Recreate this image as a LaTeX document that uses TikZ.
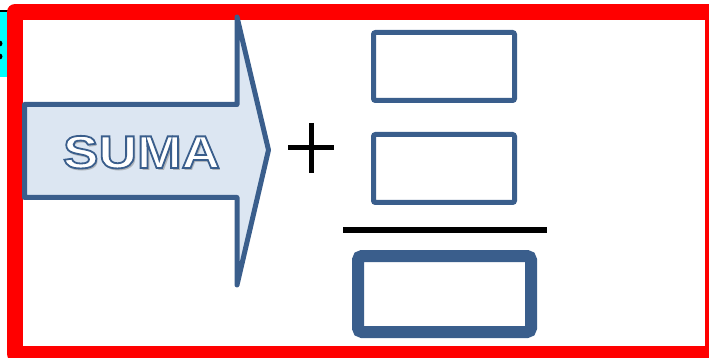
\documentclass[tikz,border=0pt]{standalone}
\usepackage{fontspec}
\usetikzlibrary{calc}
\newfontfamily\sumafont[FakeStretch=1.16]{Liberation Sans}
\definecolor{ofblue}{HTML}{3A5E8C}
\definecolor{offill}{HTML}{DCE6F2}
\definecolor{cyanbox}{HTML}{00FFFF}
\newcommand{\outlinedtext}[1]{\special{pdf:literal direct q 2 Tr 1.8 w 0.227 0.369 0.549 RG}#1\special{pdf:literal direct Q}}
\tikzset{
  framebox/.style={draw=red, line width=16pt, line join=round},
  smallbox/.style={draw=ofblue, line width=5pt, rounded corners=2pt, fill=white,
     minimum width=141pt, minimum height=68pt, inner sep=0pt},
  bigbox/.style={draw=ofblue, line width=12pt, rounded corners=4pt, fill=white,
     minimum width=173pt, minimum height=76pt, inner sep=0pt},
  arrowshape/.style={draw=ofblue, fill=offill, line width=5pt, line join=round},
  sumatxt/.style={font=\sumafont\bfseries\fontsize{46pt}{46pt}\selectfont, anchor=base, inner sep=0pt},
  plusline/.style={draw=black, line width=5pt},
}
\begin{document}
\begin{tikzpicture}[x=1pt,y=-1pt]
\useasboundingbox (0,0) rectangle (709,358);
\clip (0,0) rectangle (709,358);
% cyan piece at left
\fill[cyanbox] (0,12) rectangle (7,77);
\draw[black, line width=1.5pt] (0,11) -- (8,11);
\fill[black] (-0.5,43.5) circle (3pt);
\fill[black] (-0.5,56.5) circle (3pt);
% red frame
\draw[framebox] (15,12) rectangle (713,354);
% arrow
\draw[arrowshape] (24.5,104.5) -- (237,104.5) -- (237,17) -- (268.5,150)
   -- (237,285) -- (237,197.5) -- (24.5,197.5) -- cycle;
% SUMA text with shadow and outline
\begin{scope}[transparency group, opacity=0.5]
\node[sumatxt, text=black!50] (sumash) at (143.5,170.5) {SUMA};
\end{scope}
\node[sumatxt, text=white] (suma) at (141.5,168) {\outlinedtext{SUMA}};
% plus
\draw[plusline] (288,148) -- (334,148);
\draw[plusline] (311,123) -- (311,173);
% boxes
\node[smallbox] (top) at (444,66.5) {};
\node[smallbox] (mid) at (444,168.5) {};
\draw[black, line width=6pt] (343,230) -- (547,230);
\node[bigbox] (res) at (444.5,294) {};
\end{tikzpicture}
\end{document}
